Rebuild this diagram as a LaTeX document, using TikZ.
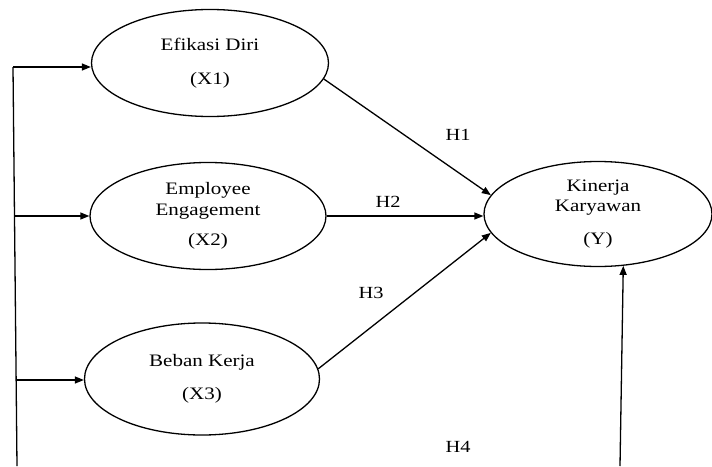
\documentclass[tikz,border=0pt]{standalone}
\usepackage{fontspec}
\setmainfont{Liberation Serif}[FakeStretch=1.2]
\usetikzlibrary{shapes.geometric,arrows.meta}
\begin{document}
\begin{tikzpicture}[x=1pt,y=-1pt,
  var/.style={draw, ellipse, line width=1.3pt, inner sep=0pt, align=center, font=\fontsize{17.5}{20.5}\selectfont},
  arr/.style={line width=1.3pt, -{Triangle[length=9pt,width=7pt]}},
  ln/.style={line width=1.3pt},
  lbl/.style={font=\fontsize{17}{20}\selectfont, inner sep=0pt}]
\useasboundingbox (0,0) rectangle (712,466);

\node[var, minimum width=237pt, minimum height=107pt] (x1) at (210,63) {Efikasi Diri\\[14pt](X1)};
\node[var, minimum width=236pt, minimum height=107pt] (x2) at (208,216) {Employee\\Engagement\\[10pt](X2)};
\node[var, minimum width=235pt, minimum height=112pt] (x3) at (202,379) {Beban Kerja\\[12pt](X3)};
\node[var, minimum width=228pt, minimum height=105pt] (y) at (598,214) {Kinerja\\Karyawan\\[12pt](Y)};

\coordinate (top) at (13,67);
\coordinate (bot) at (17,466);
\coordinate (a2) at (15,216);
\coordinate (a3) at (16,380);
\coordinate (h4s) at (620,466);

\draw[ln] (top) -- (bot);
\draw[arr] (top) -- (top -| x1.west);
\draw[arr] (a2) -- (a2 -| x2.west);
\draw[arr] (a3) -- (a3 -| x3.west);

\draw[arr] (x1.-8) -- (y.170);
\draw[arr] (x2.east) -- (x2.east -| y.west);
\draw[arr] (x3.5) -- (y.190);
\draw[arr] (h4s) -- (y.-64);

\node[lbl] (h1) at (458,135) {H1};
\node[lbl] (h2) at (388,202) {H2};
\node[lbl] (h3) at (371,293) {H3};
\node[lbl] (h4) at (458,447) {H4};
\end{tikzpicture}
\end{document}
